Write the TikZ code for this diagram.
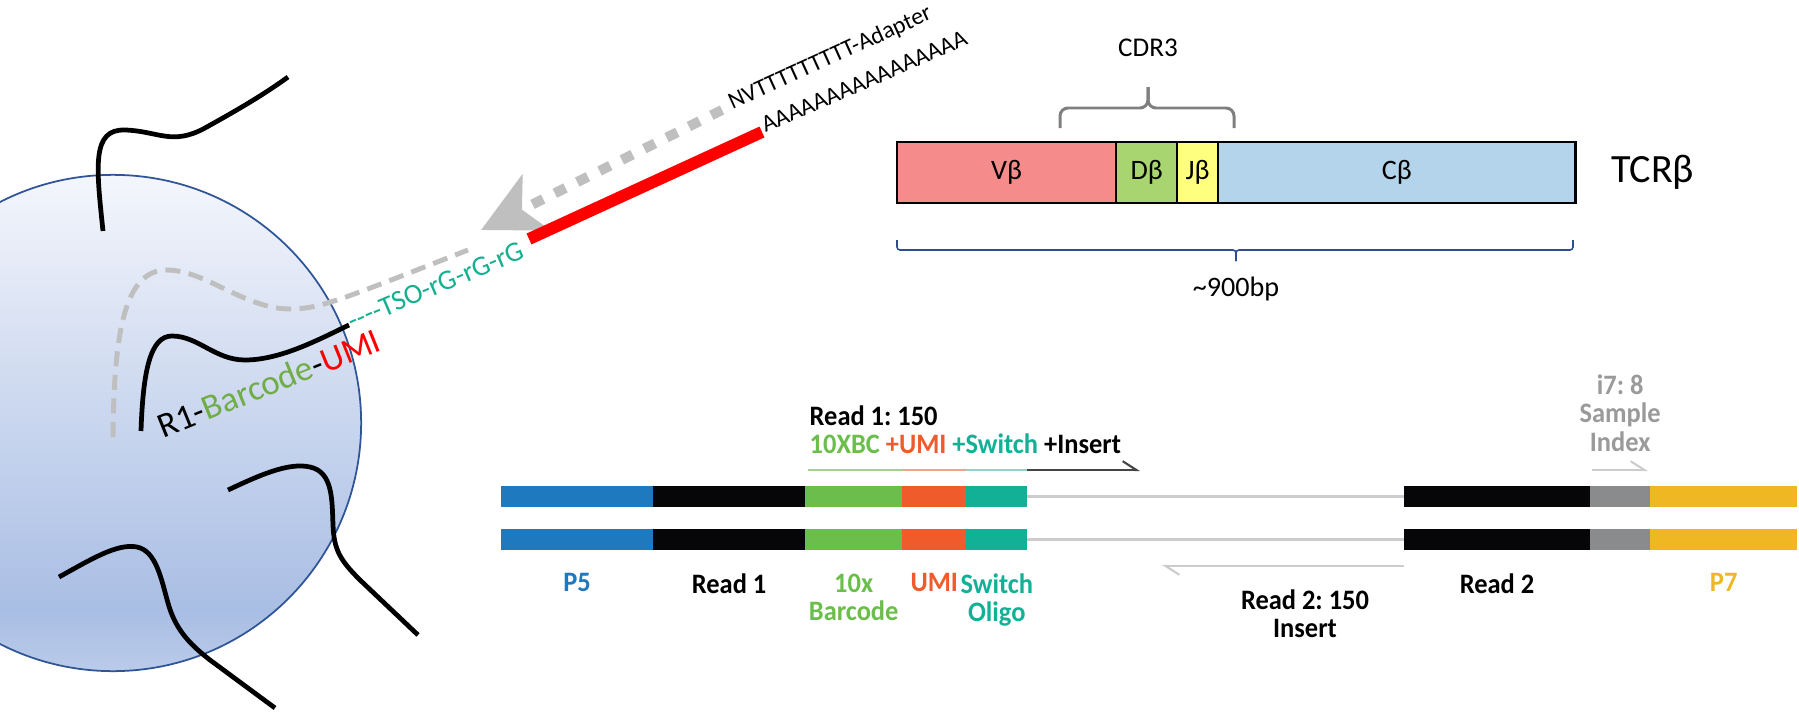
\documentclass[tikz,border=0pt]{standalone}
\usepackage{fontspec}
\setmainfont{Carlito}
\newfontfamily\libfont{Carlito}[FakeStretch=0.94]
\frenchspacing
\usetikzlibrary{arrows.meta, positioning}

% cell and strands
\definecolor{cellT}{HTML}{F4F6FC}
\definecolor{cellM}{HTML}{CCD8EF}
\definecolor{cellD}{HTML}{A9BEE4}
\definecolor{cellB}{HTML}{BACBEA}
\definecolor{cellline}{HTML}{2F5597}
\definecolor{cdnagray}{HTML}{BFBFBF}
\definecolor{tsoteal}{HTML}{14B08F}
\definecolor{rbgreen}{HTML}{70AD47}
% TCR beta chain
\definecolor{vpink}{HTML}{F58B8B}
\definecolor{dgreen}{HTML}{A9D571}
\definecolor{jyellow}{HTML}{FFFF7F}
\definecolor{cblue}{HTML}{B4D4EC}
\definecolor{bracegray}{HTML}{7F7F7F}
\definecolor{bracenavy}{HTML}{2E4D8F}
% library
\definecolor{p5blue}{HTML}{1E79BF}
\definecolor{rdblack}{HTML}{060609}
\definecolor{bcgreen}{HTML}{6BBE4B}
\definecolor{umiorange}{HTML}{EF5B2B}
\definecolor{swteal}{HTML}{12B196}
\definecolor{idxgray}{HTML}{8A8B8D}
\definecolor{p7yellow}{HTML}{EFB823}
\definecolor{wiregray}{HTML}{CCCCCC}
\definecolor{idxtext}{HTML}{9A9A9A}

\pgfdeclareverticalshading{cellfill}{100bp}{color(0bp)=(cellB); color(25bp)=(cellB);
  color(31bp)=(cellD); color(52bp)=(cellM); color(75bp)=(cellT); color(100bp)=(cellT)}

\begin{document}
\begin{tikzpicture}[x=0.01cm, y=-0.01cm,
    strand/.style={line width=1.35pt},
    cdna/.style={cdnagray, line width=1.4pt, dash pattern=on 4.3pt off 2.4pt},
    seq/.style={inner sep=0pt, anchor=base west},
    tcr/.style={draw, line width=0.7pt, minimum height=0.61cm, inner sep=0pt, outer sep=0pt,
        font=\fontsize{8}{9}\selectfont},
    seg/.style={minimum height=0.21cm, inner sep=0pt, outer sep=0pt},
    lab/.style={inner sep=0pt, align=center, font=\libfont\bfseries\fontsize{8}{8.1}\selectfont},
    wire/.style={wiregray, line width=0.7pt},
    harp/.style={-{Straight Barb[harpoon, length=3.9pt, width=5pt]}, line width=0.6pt}]

    \useasboundingbox (0,0) rectangle (1799,712);
    \clip (0,0) rectangle (1799,712);

    % Cell
    \shadedraw[shading=cellfill, draw=cellline, line width=0.5pt] (113,423) circle (2.48cm);

    % cDNA strand
    \draw[cdna] (113,437) .. controls (114,330) and (125,270) .. (167,270)
        .. controls (205,270) and (245,309) .. (290,309)
        .. controls (320,309) and (340,300) .. (468,250);

    % Strands
    \draw[strand] (103,231) .. controls (96,165) and (92,129) .. (125,130)
        .. controls (158,131) and (172,146) .. (205,128)
        .. controls (232,113) and (262,96) .. (288,77);
    \draw[strand] (141,431) .. controls (143,372) and (150,336) .. (172,336)
        .. controls (198,336) and (215,360) .. (245,360)
        .. controls (280,360) and (318,340) .. (349,325);
    \draw[strand] (228,490) .. controls (258,476) and (288,462) .. (310,467)
        .. controls (333,472) and (332,500) .. (333,525)
        .. controls (334,550) and (340,560) .. (360,580) -- (418,635);
    \draw[strand] (59,577) .. controls (90,560) and (117,543) .. (137,547)
        .. controls (156,551) and (161,578) .. (168,603)
        .. controls (175,628) and (188,643) .. (210,660) -- (275,708);

    % Oligo-dT primer and poly-A tail
    \coordinate (primer start) at (722,110);
    \coordinate (primer tip) at (481,230);
    \coordinate (polya start) at (529,239);
    \coordinate (polya end) at (762,132);
    \draw[cdnagray, line width=2.85pt, dash pattern=on 3.4pt off 3.7pt,
        -{Stealth[length=17.5pt, width=17.6pt, inset=4.5pt]}] (primer start) -- (primer tip);
    \draw[red, line width=3.4pt] (polya start) -- (polya end);

    % Sequence labels
    \node[seq, rotate=22, font=\fontsize{10}{12}\selectfont] (rbu) at (163,439)
        {R1-\textcolor{rbgreen}{Barcode}-\textcolor{red}{UMI}};
    \node[seq, rotate=23, text=tsoteal, font=\fontsize{8}{9}\selectfont] (tso) at (352,331)
        {-{}-{}-{}-TSO-rG-rG-rG};
    \node[seq, rotate=24.5, font=\fontsize{6.8}{8}\selectfont] (nvt) at (732,110)
        {NVTTTTTTTTT-Adapter};
    \node[seq, rotate=23.5, font=\fontsize{6.8}{8}\selectfont] (polya) at (765,133)
        {AAAAAAAAAAAAAAAA};

    % TCR beta chain
    \node[tcr, fill=vpink, minimum width=2.19cm, anchor=west] (vb) at (897,172.5) {Vβ};
    \node[tcr, fill=dgreen, minimum width=0.61cm, right=0pt of vb] (db) {Dβ};
    \node[tcr, fill=jyellow, minimum width=0.41cm, right=0pt of db] (jb) {Jβ};
    \node[tcr, fill=cblue, minimum width=3.57cm, right=0pt of jb] (cb) {Cβ};
    \node[inner sep=0pt, right=0.35cm of cb, font=\fontsize{11.4}{13}\selectfont] (tcrb) {TCRβ};

    % Braces
    \coordinate (cdr tip) at (1148,87);
    \coordinate (len tip) at (1236,261);
    \draw[bracegray, line width=0.85pt, rounded corners=0.08cm]
        (1060,128) |- (1148,108) -- (cdr tip);
    \draw[bracegray, line width=0.85pt, rounded corners=0.08cm]
        (1234,128) |- (1148,108) -- (cdr tip);
    \draw[bracenavy, line width=0.45pt, rounded corners=0.03cm]
        (897,240) |- (1236,250) -- (len tip);
    \draw[bracenavy, line width=0.45pt, rounded corners=0.03cm]
        (1573,240) |- (1236,250) -- (len tip);
    \node[inner sep=0pt, above=0.3cm of cdr tip, font=\fontsize{7.7}{9}\selectfont] (cdr) {CDR3};
    \node[inner sep=0pt, below=0.15cm of len tip, font=\fontsize{8}{9}\selectfont] (len) {\textasciitilde 900bp};

    % Library, upper strand
    \node[seg, fill=p5blue, minimum width=1.52cm, anchor=west] (p5a) at (501,496.5) {};
    \node[seg, fill=rdblack, minimum width=1.52cm, right=0pt of p5a] (rdonea) {};
    \node[seg, fill=bcgreen, minimum width=0.97cm, right=0pt of rdonea] (bca) {};
    \node[seg, fill=umiorange, minimum width=0.64cm, right=0pt of bca] (umia) {};
    \node[seg, fill=swteal, minimum width=0.61cm, right=0pt of umia] (swa) {};
    \node[seg, fill=rdblack, minimum width=1.86cm, anchor=west] (rdtwoa) at (1404,496.5) {};
    \node[seg, fill=idxgray, minimum width=0.60cm, right=0pt of rdtwoa] (idxa) {};
    \node[seg, fill=p7yellow, minimum width=1.47cm, right=0pt of idxa] (p7a) {};

    % Library, lower strand
    \node[seg, fill=p5blue, minimum width=1.52cm, anchor=west] (p5b) at (501,539.5) {};
    \node[seg, fill=rdblack, minimum width=1.52cm, right=0pt of p5b] (rdoneb) {};
    \node[seg, fill=bcgreen, minimum width=0.97cm, right=0pt of rdoneb] (bcb) {};
    \node[seg, fill=umiorange, minimum width=0.64cm, right=0pt of bcb] (umib) {};
    \node[seg, fill=swteal, minimum width=0.61cm, right=0pt of umib] (swb) {};
    \node[seg, fill=rdblack, minimum width=1.86cm, anchor=west] (rdtwob) at (1404,539.5) {};
    \node[seg, fill=idxgray, minimum width=0.60cm, right=0pt of rdtwob] (idxb) {};
    \node[seg, fill=p7yellow, minimum width=1.47cm, right=0pt of idxb] (p7b) {};

    % Inserts
    \draw[wire] (swa) -- (rdtwoa);
    \draw[wire] (swb) -- (rdtwob);

    % Segment labels
    \node[lab, text=p5blue, below=0.23cm of p5b] (p5lab) {P5};
    \node[lab, below=0.23cm of rdoneb] (rdonelab) {Read 1};
    \node[lab, text=bcgreen, below=0.23cm of bcb] (bclab) {10x\\Barcode};
    \node[lab, text=umiorange, below=0.23cm of umib] (umilab) {UMI};
    \node[lab, text=swteal, below=0.23cm of swb] (swlab) {Switch\\Oligo};
    \node[lab, below=0.23cm of rdtwob] (rdtwolab) {Read 2};
    \node[lab, text=p7yellow, below=0.23cm of p7b] (p7lab) {P7};
    \node[lab, text=idxtext, above=0.34cm of idxa] (idxlab) {i7: 8\\Sample\\Index};

    % Read 1
    \node[lab, anchor=base west] (rdone) at (809,425) {Read 1: 150};
    \node[lab, anchor=base west] (rdoneparts) at (809,453) {\textcolor{bcgreen}{10XBC}
        \textcolor{umiorange}{+UMI} \textcolor{swteal}{+Switch} +Insert};
    \coordinate (r1a) at (808,470);
    \coordinate (r1b) at (903,470);
    \coordinate (r1c) at (966,470);
    \coordinate (r1d) at (1027,470);
    \coordinate (r1e) at (1140,470);
    \draw[line width=0.6pt, color={rgb,255:red,163;green,209;blue,143}] (r1a) -- (r1b);
    \draw[line width=0.6pt, color={rgb,255:red,233;green,165;blue,142}] (r1b) -- (r1c);
    \draw[line width=0.6pt, color={rgb,255:red,146;green,210;blue,202}] (r1c) -- (r1d);
    \draw[harp, color={rgb,255:red,68;green,68;blue,68}] (r1d) -- (r1e);

    % Read 2 and index
    \coordinate (r2a) at (1404,566);
    \coordinate (r2b) at (1162,566);
    \draw[harp, wiregray] (r2a) -- (r2b);
    \node[lab, anchor=north] (rdtwo) at (1305,589) {Read 2: 150\\Insert};
    \coordinate (i7a) at (1592,470);
    \coordinate (i7b) at (1648,470);
    \draw[harp, wiregray] (i7a) -- (i7b);
\end{tikzpicture}
\end{document}
